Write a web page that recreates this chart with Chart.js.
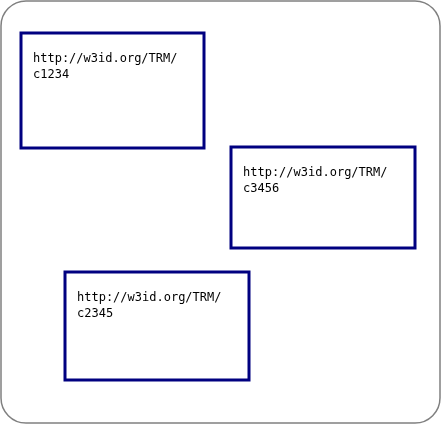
<!DOCTYPE html>
<html>
<head>
<meta charset="utf-8">
<script src="https://cdn.jsdelivr.net/npm/chart.js@4/dist/chart.umd.min.js"></script>
<style>
  html, body { margin: 0; padding: 0; background: #fff; }
  #wrap { width: 441px; height: 425px; }
</style>
</head>
<body>
<div id="wrap"><canvas id="diagram"></canvas></div>
<script>
const labels = ["http://w3id.org/TRM/\nc1234", "http://w3id.org/TRM/\nc3456", "http://w3id.org/TRM/\nc2345"];
const xLeft = [21, 231, 65];
const xRight = [204, 415, 249];
const yTop = [33, 147, 272];
const yBottom = [148, 248, 380];

// boxes drawn from the data through the scales
const boxPlugin = {
    id: "boxes",
    beforeDraw(chart) {
        const ctx = chart.ctx;
        const x = chart.scales.x;
        const y = chart.scales.y;
        ctx.save();
        ctx.strokeStyle = "#808080";
        ctx.lineWidth = 1.5;
        ctx.beginPath();
        ctx.roundRect(x.getPixelForValue(1), y.getPixelForValue(1),
            x.getPixelForValue(440) - x.getPixelForValue(1),
            y.getPixelForValue(423) - y.getPixelForValue(1), 25);
        ctx.stroke();
        ctx.restore();
    },
    afterDatasetsDraw(chart) {
        const ctx = chart.ctx;
        const x = chart.scales.x;
        const y = chart.scales.y;
        ctx.save();
        labels.forEach((label, i) => {
            const l = x.getPixelForValue(xLeft[i]);
            const r = x.getPixelForValue(xRight[i]);
            const t = y.getPixelForValue(yTop[i]);
            const b = y.getPixelForValue(yBottom[i]);
            ctx.fillStyle = "#fff";
            ctx.fillRect(l, t, r - l, b - t);
            ctx.strokeStyle = "#000080";
            ctx.lineWidth = 3;
            ctx.strokeRect(l, t, r - l, b - t);
            ctx.fillStyle = "#000";
            ctx.font = "12px 'DejaVu Sans Mono'";
            ctx.textBaseline = "alphabetic";
            label.split("\n").forEach((line, j) => {
                ctx.fillText(line, l + 12, t + 29 + j * 16);
            });
        });
        ctx.restore();
    },
};

new Chart(document.querySelector("#diagram"), {
    type: "scatter",
    data: {
        datasets: [{
            data: labels.map((_, i) => ({ x: xLeft[i], y: yTop[i] })),
            pointRadius: 0,
        }],
    },
    options: {
        responsive: true,
        maintainAspectRatio: false,
        animation: false,
        layout: { padding: 0 },
        plugins: { legend: { display: false }, tooltip: { enabled: false } },
        scales: {
            x: { display: false, min: 0, max: 441 },
            y: { display: false, min: 0, max: 425, reverse: true },
        },
    },
    plugins: [boxPlugin],
});
</script>
</body>
</html>
